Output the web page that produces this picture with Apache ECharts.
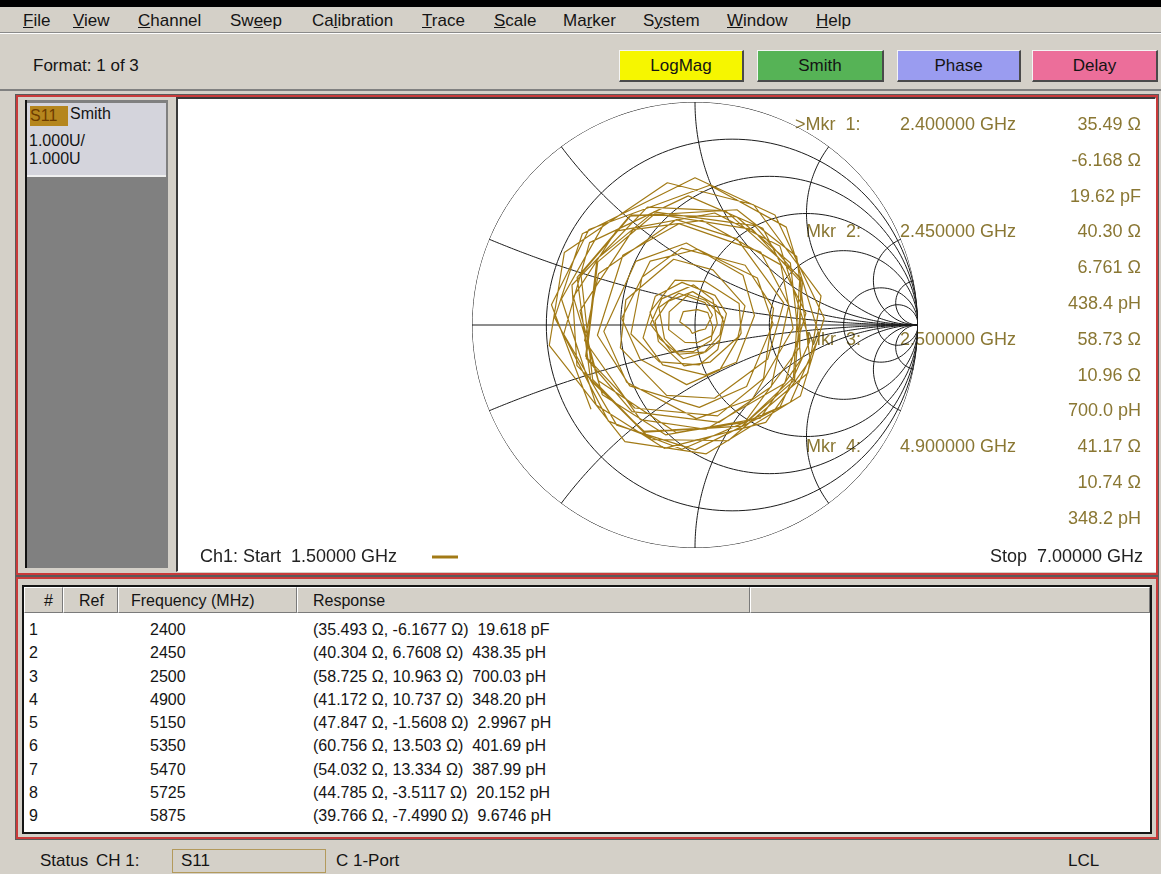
<!DOCTYPE html>
<html>
<head>
<meta charset="utf-8">
<title>S11 Smith</title>
<script src="https://cdn.jsdelivr.net/npm/echarts@6/dist/echarts.min.js"></script>
<style>
  html, body { margin: 0; padding: 0; }
  body {
    width: 1161px; height: 874px; position: relative; overflow: hidden;
    background: #d4d0c8; color: #141414;
    font-family: 'Liberation Sans', Arial, sans-serif;
  }
  .abs { position: absolute; }
  #topband { left: 0; top: 0; width: 1161px; height: 7px; background: #000; }
  #menu { left: 0; top: 7px; width: 1161px; height: 25px; border-bottom: 1px solid #8a8a8a; }
  #menu span { position: absolute; top: 4px; font-size: 17px; }
  #toolbar { left: 0; top: 33px; width: 1161px; height: 55px; border-top: 1px solid #fff; border-bottom: 2px solid #808080; }
  .fmt { left: 33px; top: 56px; font-size: 17px; }
  .btn {
    position: absolute; top: 50px; height: 32px; line-height: 29px; text-align: center; font-size: 17px;
    box-sizing: border-box; border-style: solid; border-width: 1px 2px 2px 1px; border-color: #f4f4f4 #4a4a4a #4a4a4a #f4f4f4;
  }
  .frame { position: absolute; box-sizing: border-box; border: 2px solid #c93a3a; outline: 1px solid #5a5a5a; }
  #panel { left: 25px; top: 100px; width: 143px; height: 468px; background: #808080; border-left: 2px solid #111; box-sizing: border-box; }
  #tracebox { left: 27px; top: 103px; width: 139px; height: 74px; background: #d4d4dc; border-bottom: 2px solid #f0f0f0; box-sizing: border-box; font-size: 16px; }
  #chartwrap { left: 176px; top: 97px; width: 980px; height: 475px; border-left: 2px solid #3a3a3a; border-top: 2px solid #3a3a3a; border-right: 1px solid #fff; border-bottom: 1px solid #fff; box-sizing: border-box; background: #fff; }
  #smith { left: 178px; top: 99px; width: 977px; height: 471px; }
  #tbl { left: 22px; top: 585px; width: 1130px; height: 249px; border: 2px solid #151515; background: #fff; box-sizing: border-box; font-size: 16px; overflow: hidden; }
  .hd { position: absolute; top: 0; height: 26px; line-height: 26px; background: #d4d0c8; box-sizing: border-box;
        border-top: 1px solid #fff; border-left: 1px solid #fff; border-right: 1px solid #7a7a7a; border-bottom: 1px solid #7a7a7a; }
  .row { position: absolute; left: 0; width: 1126px; height: 23px; line-height: 23px; }
  .row span { position: absolute; top: 0; }
  #status { left: 0; top: 841px; width: 1161px; height: 33px; font-size: 17px; }
  #status span { position: absolute; top: 10px; }
  #stbox { left: 172px; top: 849px; width: 154px; height: 24px; border: 1px solid #b39a5c; box-sizing: border-box; }
</style>
</head>
<body>
<div id="topband" class="abs"></div>
<div id="menu" class="abs"></div>
<div id="toolbar" class="abs"></div>
<div class="abs fmt">Format: 1 of 3</div>
<div id="buttons"></div>

<div class="frame" style="left:16px; top:95px; width:1142px; height:480px;"></div>
<div class="frame" style="left:16px; top:577px; width:1142px; height:262px;"></div>

<div id="panel" class="abs"></div>
<div id="tracebox" class="abs">
  <span class="abs" style="left:3px; top:3px; width:38px; height:20px; line-height:20px; background:#b5861e; color:#6e3c00;">S11</span>
  <span class="abs" style="left:43px; top:2px;">Smith</span>
  <span class="abs" style="left:2px; top:29px;">1.000U/</span>
  <span class="abs" style="left:2px; top:47px;">1.000U</span>
</div>
<div id="chartwrap" class="abs"></div>
<div id="smith" class="abs"></div>

<div id="tbl" class="abs"></div>

<div id="status" class="abs">
  <span style="left:40px;">Status</span>
  <span style="left:96px;">CH 1:</span>
  <span style="left:181px;">S11</span>
  <span style="left:336px;">C 1-Port</span>
  <span style="left:1068px;">LCL</span>
</div>
<div id="stbox" class="abs"></div>

<script>
// menu + format buttons
const menuItems = ['<u>F</u>ile', '<u>V</u>iew', '<u>C</u>hannel', 'Sw<u>e</u>ep', 'Ca<u>l</u>ibration', '<u>T</u>race',
  '<u>S</u>cale', 'Ma<u>r</u>ker', 'S<u>y</u>stem', '<u>W</u>indow', '<u>H</u>elp']
const menuX = [23, 73, 138, 230, 312, 422, 494, 563, 643, 727, 816]
const formatNames = ['LogMag', 'Smith', 'Phase', 'Delay']
const formatColors = ['#f6f600', '#56b356', '#9a9cf0', '#ec6e9a']
const formatLeft = [619, 757, 897, 1032]
const formatRight = [744, 884, 1021, 1158]

// marker readout (top right of the plot)
const markerLabels = ['>Mkr  1:', 'Mkr  2:', 'Mkr  3:', 'Mkr  4:']
const markerFreqs = ['2.400000 GHz', '2.450000 GHz', '2.500000 GHz', '4.900000 GHz']
const markerReadouts = [
  ['35.49 Ω', '-6.168 Ω', '19.62 pF'],
  ['40.30 Ω', '6.761 Ω', '438.4 pH'],
  ['58.73 Ω', '10.96 Ω', '700.0 pH'],
  ['41.17 Ω', '10.74 Ω', '348.2 pH']
]
const startLabel = 'Ch1: Start  1.50000 GHz'
const stopLabel = 'Stop  7.00000 GHz'

// marker table
const tableNums = [1, 2, 3, 4, 5, 6, 7, 8, 9]
const tableFreqs = [2400, 2450, 2500, 4900, 5150, 5350, 5470, 5725, 5875]
const tableR = ['35.493', '40.304', '58.725', '41.172', '47.847', '60.756', '54.032', '44.785', '39.766']
const tableX = ['-6.1677', '6.7608', '10.963', '10.737', '-1.5608', '13.503', '13.334', '-3.5117', '-7.4990']
const tableEq = ['19.618 pF', '438.35 pH', '700.03 pH', '348.20 pH', '2.9967 pH', '401.69 pH', '387.99 pH', '20.152 pH', '9.6746 pH']

// smith grid (normalised resistance circles / reactance arcs)
const rCircles = [0, 0.2, 0.5, 1, 2, 5, 10]
const xArcs = [0.2, 0.5, 1, 2, 5, 10]

// S11 trace 1.5 - 7 GHz, |Γ| and angle (deg)
const traceMag = [
  0.60, 0.65, 0.64, 0.63, 0.60, 0.56, 0.55, 0.56, 0.57, 0.59,
  0.60, 0.58, 0.53, 0.50, 0.48, 0.47, 0.49, 0.50, 0.49, 0.48,
  0.43, 0.41, 0.36, 0.34, 0.34, 0.35, 0.33, 0.31, 0.26, 0.24,
  0.20, 0.18, 0.19, 0.18, 0.18, 0.16, 0.15, 0.13, 0.13, 0.15,
  0.18, 0.23, 0.29, 0.32, 0.35, 0.35, 0.36, 0.39, 0.42, 0.46,
  0.51, 0.53, 0.54, 0.52, 0.52, 0.51, 0.50, 0.53, 0.52, 0.56,
  0.57, 0.52, 0.51, 0.50, 0.51, 0.51, 0.52, 0.56, 0.55, 0.51,
  0.52, 0.52, 0.53, 0.56, 0.58, 0.63, 0.65, 0.66, 0.61, 0.58,
  0.57, 0.58, 0.61, 0.66, 0.67, 0.65, 0.60, 0.58, 0.55, 0.54,
  0.55, 0.56, 0.58, 0.57, 0.53, 0.52, 0.48, 0.49, 0.49, 0.50,
  0.52, 0.51, 0.47, 0.47, 0.44, 0.42, 0.42, 0.40, 0.41, 0.39,
  0.37, 0.31, 0.27, 0.25, 0.23, 0.23, 0.24, 0.22, 0.20, 0.16,
  0.15, 0.13, 0.13, 0.15, 0.15, 0.18, 0.16, 0.11, 0.09, 0.05,
  0.03, 0.04, 0.03, 0.07, 0.08, 0.07, 0.08, 0.08, 0.10, 0.12,
  0.16, 0.20, 0.19, 0.18, 0.14, 0.10, 0.09, 0.08, 0.09, 0.12,
  0.13, 0.14, 0.12, 0.13, 0.12, 0.13, 0.16, 0.17, 0.21, 0.22,
  0.20, 0.22, 0.21, 0.23, 0.27, 0.29, 0.33, 0.35, 0.34, 0.35,
  0.35, 0.36, 0.37, 0.40, 0.44, 0.45, 0.46, 0.44, 0.43, 0.44,
  0.45, 0.48, 0.51, 0.52, 0.53, 0.50, 0.51, 0.50, 0.50, 0.53,
  0.53, 0.57, 0.57, 0.55, 0.55, 0.54, 0.54, 0.57, 0.57, 0.61,
  0.61
]
const traceAng = [
  219, 172, 138, 84, 47, 355, 321, 270, 232, 184,
  142, 93, 55, 6, 327, 276, 240, 188, 152, 100,
  64, 14, 335, 285, 248, 197, 160, 108, 72, 21,
  344, 292, 255, 204, 174, 138, 94, 42, 5, 313,
  276, 226, 188, 138, 100, 50, 12, 322, 284, 234,
  196, 146, 110, 59, 22, 331, 295, 244, 208, 156,
  120, 69, 33, 342, 305, 255, 217, 167, 130, 80,
  43, 352, 316, 264, 228, 177, 141, 90, 54, 3,
  326, 275, 239, 188, 151, 101, 64, 13, 337, 286,
  249, 199, 162, 112, 75, 24, 348, 297, 260, 210,
  173, 123, 86, 35, 358, 308, 271, 220, 184, 133,
  96, 46, 9, 318, 282, 231, 194, 144, 107, 56,
  20, 329, 292, 241, 204, 154, 117, 66, 30, 339,
  303, 252, 220, 168, 131, 81, 44, 353, 317, 266,
  229, 179, 142, 92, 55, 4, 328, 277, 240, 190,
  153, 102, 66, 15, 339, 288, 251, 201, 164, 114,
  77, 26, 350, 299, 262, 212, 175, 125, 88, 37,
  1, 310, 273, 223, 186, 136, 99, 48, 12, 321,
  284, 234, 197, 147, 110, 59, 23, 332, 295, 245,
  208, 158, 121, 70, 34, 343, 306, 256, 219, 169,
  132
]

const menu = document.getElementById('menu')
menuItems.forEach((m, i) => {
  menu.insertAdjacentHTML('beforeend', `<span style="left:${menuX[i]}px">${m}</span>`)
})
const buttons = document.getElementById('buttons')
formatNames.forEach((n, i) => {
  buttons.insertAdjacentHTML('beforeend',
    `<div class="btn" style="left:${formatLeft[i]}px;width:${formatRight[i] - formatLeft[i]}px;background:${formatColors[i]}">${n}</div>`)
})

// table
const tbl = document.getElementById('tbl')
const heads = [['#', 0, 39, 19], ['Ref', 39, 55, 15], ['Frequency (MHz)', 94, 179, 12], ['Response', 273, 453, 15], ['', 726, 400, 0]]
heads.forEach(h => {
  tbl.insertAdjacentHTML('beforeend',
    `<div class="hd" style="left:${h[1]}px;width:${h[2]}px;padding-left:${h[3]}px">${h[0]}</div>`)
})
tableNums.forEach((n, i) => {
  const top = 31 + i * 23.25
  tbl.insertAdjacentHTML('beforeend',
    `<div class="row" style="top:${top}px">` +
    `<span style="left:5px">${n}</span>` +
    `<span style="left:126px">${tableFreqs[i]}</span>` +
    `<span style="left:289px">(${tableR[i]} Ω, ${tableX[i]} Ω)&nbsp; ${tableEq[i]}</span></div>`)
})

// smith chart
function toPolar(re, im) {
  return [Math.hypot(re, im), (Math.atan2(im, re) * 180 / Math.PI + 360) % 360]
}
function resistanceCircle(r) {
  const c = r / (1 + r)
  const rad = 1 / (1 + r)
  const pts = []
  for (let t = 0; t <= 360; t += 2) {
    const a = t * Math.PI / 180
    pts.push(toPolar(c + rad * Math.cos(a), rad * Math.sin(a)))
  }
  return pts
}
function reactanceArc(x) {
  const pts = []
  for (let k = 0; k < 240; k++) {
    const r = Math.tan(k / 240 * Math.PI / 2)
    const d = (r + 1) * (r + 1) + x * x
    pts.push(toPolar((r * r - 1 + x * x) / d, 2 * x / d))
  }
  pts.push([1, 0])
  return pts
}

const gridStyle = { color: '#1c1c1c', width: 1 }
const series = []
rCircles.forEach(r => series.push({ type: 'line', coordinateSystem: 'polar', data: resistanceCircle(r),
  symbol: 'none', silent: true, lineStyle: gridStyle }))
xArcs.forEach(x => {
  series.push({ type: 'line', coordinateSystem: 'polar', data: reactanceArc(x), symbol: 'none', silent: true, lineStyle: gridStyle })
  series.push({ type: 'line', coordinateSystem: 'polar', data: reactanceArc(-x), symbol: 'none', silent: true, lineStyle: gridStyle })
})
series.push({ type: 'line', coordinateSystem: 'polar', data: [[1, 180], [0, 0], [1, 0]], symbol: 'none', silent: true, lineStyle: gridStyle })
series.push({
  name: 'S11', type: 'line', coordinateSystem: 'polar',
  data: traceMag.map((m, i) => [m, traceAng[i]]),
  symbol: 'none', lineStyle: { color: '#a27a16', width: 1.2 }, z: 3
})

const txtColor = '#8a7733'
const font = '18px "Liberation Sans", Arial, sans-serif'
const graphics = []
function addText(text, x, y, align, fill) {
  graphics.push({ type: 'text', x: x, y: y, z: 1,
    style: { text: text, fill: fill || txtColor, font: font, textAlign: align, textVerticalAlign: 'middle' } })
}
markerLabels.forEach((lab, i) => {
  const y0 = 26 + i * 3 * 35.8
  addText(lab, i === 0 ? 617 : 628, y0, 'left')
  addText(markerFreqs[i], 722, y0, 'left')
  markerReadouts[i].forEach((v, j) => addText(v, 963, y0 + j * 35.8, 'right'))
})
addText(startLabel, 22, 458, 'left', '#222')
addText(stopLabel, 965, 458, 'right', '#222')
graphics.push({ type: 'line', shape: { x1: 254, y1: 458, x2: 280, y2: 458 }, style: { stroke: '#a27a16', lineWidth: 3 } })

const chart = echarts.init(document.getElementById('smith'))
chart.setOption({
  animation: false,
  polar: { center: [517, 226], radius: 223 },
  angleAxis: {
    type: 'value', min: 0, max: 360, startAngle: 0, clockwise: false,
    axisLine: { show: false }, axisTick: { show: false }, axisLabel: { show: false }, splitLine: { show: false }
  },
  radiusAxis: {
    type: 'value', min: 0, max: 1,
    axisLine: { show: false }, axisTick: { show: false }, axisLabel: { show: false }, splitLine: { show: false }
  },
  graphic: graphics,
  series: series
})
</script>
</body>
</html>
